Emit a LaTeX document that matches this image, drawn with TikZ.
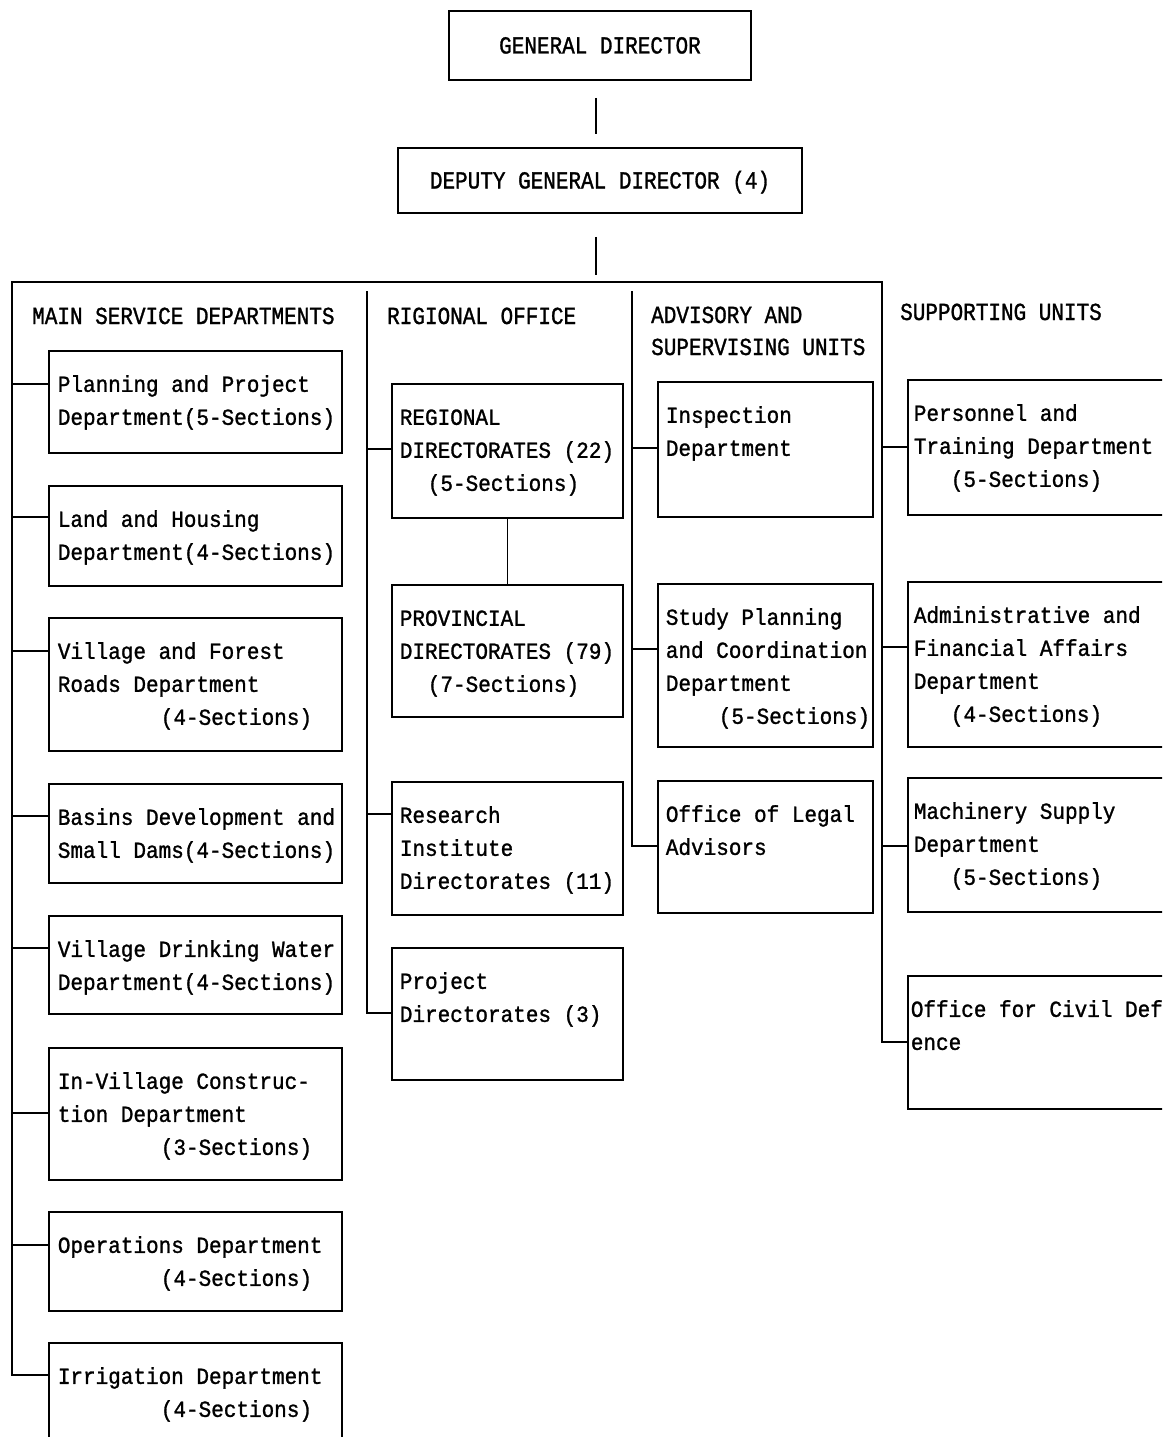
\documentclass[tikz,border=0pt]{standalone}
\usepackage{fontspec}
\setmainfont{Liberation Mono}
\newfontfamily\bodyf[FakeStretch=0.913,FakeBold=1.2]{Liberation Mono}
\newfontfamily\headf[FakeStretch=0.857,FakeBold=1.2]{Liberation Mono}
\usetikzlibrary{calc}
\newcommand\bxt[4]{\parbox[t][#2pt][t]{#1pt}{\leftskip=#3pt\rule{0pt}{41pt}#4}}
\tikzset{
  box/.style={draw, line width=1.7pt, anchor=north west, inner sep=0pt,
    font=\bodyf\fontsize{23pt}{33pt}\selectfont},
  topbox/.style={draw, line width=1.7pt, inner sep=0pt,
    font=\headf\fontsize{24.5pt}{32pt}\selectfont, text height=16pt, text depth=0pt},
  head/.style={anchor=base west, inner sep=0pt,
    font=\headf\fontsize{24.5pt}{32pt}\selectfont},
  conn/.style={line width=1.7pt},
  thick conn/.style={line width=2.4pt}
}
\begin{document}
\begin{tikzpicture}[x=1pt,y=-1pt]
\useasboundingbox (0,0) rectangle (1162,1437);
\clip (0,0) rectangle (1162,1437);
\fill[white] (0,0) rectangle (1162,1437);

% top
\node[topbox, minimum width=302pt, minimum height=69pt] (gd) at (600,45.5) {GENERAL DIRECTOR};
\node[topbox, minimum width=404pt, minimum height=65pt] (dgd) at (600,180.5) {DEPUTY GENERAL DIRECTOR (4)};

% headers
\node[head] (h1) at (32,324) {MAIN SERVICE DEPARTMENTS};
\node[head] (h2) at (387,324) {RIGIONAL OFFICE};
\node[head] (h3) at (651,323) {\parbox[t]{230pt}{ADVISORY AND\\SUPERVISING UNITS}};
\node[head] (h4) at (900,320) {SUPPORTING UNITS};

% main service departments
\node[box] (plan) at (48,350) {\bxt{293}{102}{9}{Planning and Project\\Department(5-Sections)}};
\node[box] (land) at (48,485) {\bxt{293}{100}{9}{Land and Housing\\Department(4-Sections)}};
\node[box] (vfr) at (48,617) {\bxt{293}{133}{9}{Village and Forest\\Roads Department\\\hspace*{103pt}(4-Sections)}};
\node[box] (basin) at (48,783) {\bxt{293}{99}{9}{Basins Development and\\Small Dams(4-Sections)}};
\node[box] (water) at (48,915) {\bxt{293}{98}{9}{Village Drinking Water\\Department(4-Sections)}};
\node[box] (inv) at (48,1047) {\bxt{293}{132}{9}{In-Village Construc-\\tion Department\\\hspace*{103pt}(3-Sections)}};
\node[box] (ops) at (48,1211) {\bxt{293}{99}{9}{Operations Department\\\hspace*{103pt}(4-Sections)}};
\node[box] (irr) at (48,1342) {\bxt{293}{130}{9}{Irrigation Department\\\hspace*{103pt}(4-Sections)}};

% regional office
\node[box] (rd) at (391,383) {\bxt{231}{134}{8}{REGIONAL\\DIRECTORATES (22)\\\hspace*{28pt}(5-Sections)}};
\node[box] (pd) at (391,584) {\bxt{231}{132}{8}{PROVINCIAL\\DIRECTORATES (79)\\\hspace*{28pt}(7-Sections)}};
\node[box] (ri) at (391,781) {\bxt{231}{133}{8}{Research\\Institute\\Directorates (11)}};
\node[box] (pj) at (391,947) {\bxt{231}{132}{8}{Project\\Directorates (3)}};

% advisory and supervising units
\node[box] (insp) at (657,381) {\bxt{215}{135}{8}{Inspection\\Department}};
\node[box] (spc) at (657,583) {\bxt{215}{163}{8}{Study Planning\\and Coordination\\Department\\\hspace*{53pt}(5-Sections)}};
\node[box] (ola) at (657,780) {\bxt{215}{132}{8}{Office of Legal\\Advisors}};

% supporting units
\node[box] (pers) at (907,379) {\bxt{300}{135}{6}{Personnel and\\Training Department\\\hspace*{37pt}(5-Sections)}};
\node[box] (adm) at (907,581) {\bxt{300}{165}{6}{Administrative and\\Financial Affairs\\Department\\\hspace*{37pt}(4-Sections)}};
\node[box] (mach) at (907,777) {\bxt{300}{134}{6}{Machinery Supply\\Department\\\hspace*{37pt}(5-Sections)}};
\node[box] (civ) at (907,975) {\bxt{300}{133}{3}{Office for Civil Def\\ence}};

% connection points
\coordinate (tl) at (12,282);
\coordinate (tr) at (882,282);
\coordinate (c2) at (367,291);
\coordinate (c3) at (632,291);
\coordinate (planc) at ($(plan.north west)+(0,34)$);
\coordinate (landc) at ($(land.north west)+(0,32)$);
\coordinate (vfrc) at ($(vfr.north west)+(0,34)$);
\coordinate (basinc) at ($(basin.north west)+(0,33)$);
\coordinate (waterc) at ($(water.north west)+(0,33)$);
\coordinate (invc) at ($(inv.north west)+(0,66)$);
\coordinate (opsc) at ($(ops.north west)+(0,34)$);
\coordinate (irrc) at ($(irr.north west)+(0,33)$);
\coordinate (rdc) at ($(rd.north west)+(0,66)$);
\coordinate (ric) at ($(ri.north west)+(0,33)$);
\coordinate (pjc) at ($(pj.north west)+(0,66)$);
\coordinate (inspc) at ($(insp.north west)+(0,67)$);
\coordinate (spcc) at ($(spc.north west)+(0,66)$);
\coordinate (olac) at ($(ola.north west)+(0,66)$);
\coordinate (persc) at ($(pers.north west)+(0,68)$);
\coordinate (admc) at ($(adm.north west)+(0,66)$);
\coordinate (machc) at ($(mach.north west)+(0,69)$);
\coordinate (civc) at ($(civ.north west)+(0,67)$);

% top connectors
\draw[thick conn] ($(gd.south)+(-4,17)$) -- ($(dgd.north)+(-4,-13)$);
\draw[thick conn] ($(dgd.south)+(-4,23)$) -- ($(dgd.south)+(-4,61)$);

% trunk
\draw[conn] (irrc) -| (tl) -- (tr) |- (civc);

% main service branches
\foreach \p in {planc,landc,vfrc,basinc,waterc,invc,opsc}
  \draw[conn] (\p -| tl) -- (\p);

% regional office
\draw[conn] (c2) |- (pjc);
\foreach \p in {rdc,ric}
  \draw[conn] (\p -| c2) -- (\p);
\draw[conn] (rd.south) -- (pd.north);

% advisory
\draw[conn] (c3) |- (olac);
\foreach \p in {inspc,spcc}
  \draw[conn] (\p -| c3) -- (\p);

% supporting
\foreach \p in {persc,admc,machc}
  \draw[conn] (\p -| tr) -- (\p);
\end{tikzpicture}
\end{document}
